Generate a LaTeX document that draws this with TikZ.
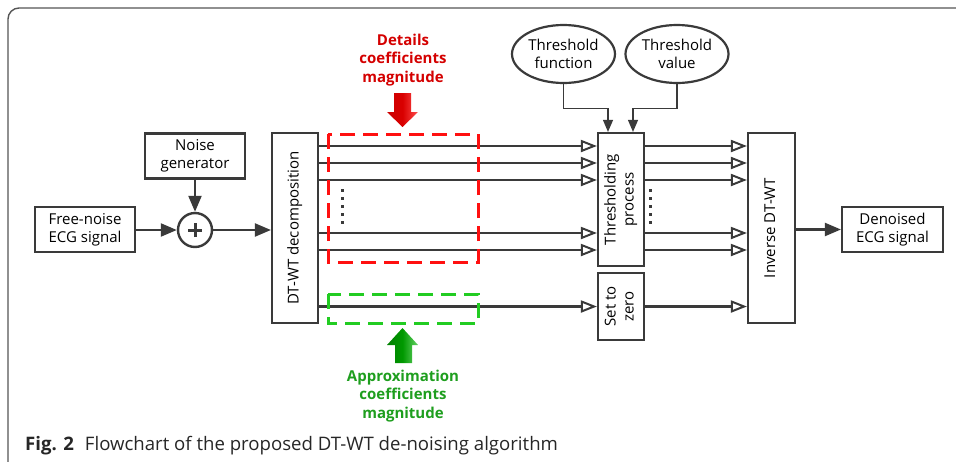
\documentclass[tikz,border=0pt]{standalone}
\usepackage{fontspec}
\setmainfont{Open Sans}
\usepackage{graphicx}
\usetikzlibrary{arrows.meta,shapes.geometric}
\definecolor{ln}{HTML}{3A3A3A}
\definecolor{frm}{HTML}{555555}
\definecolor{redtxt}{HTML}{D40000}
\definecolor{reddash}{HTML}{FF1010}
\definecolor{grntxt}{HTML}{1E9E1E}
\definecolor{grndash}{HTML}{22CC22}
\newcommand\vtext[1]{\rotatebox{90}{\begin{tabular}{@{}c@{}}#1\end{tabular}}}
\tikzset{
  box/.style={draw=ln, line width=2.2pt, fill=white, inner sep=0pt, align=center,
    font=\fontsize{15}{18}\selectfont, text=black},
  oval/.style={box, ellipse, minimum width=103pt, minimum height=58pt},
  sig/.style={draw=ln, line width=2.2pt, -{Triangle[length=16pt,width=13pt]}},
  osig/.style={draw=ln, line width=2.2pt, -{Triangle[open,length=16pt,width=12pt,line width=2pt,fill=white]}},
  thinsig/.style={draw=ln, line width=1.1pt, -{Triangle[length=12pt,width=10pt]}},
  lbl/.style={font=\fontsize{15}{18.5}\selectfont\bfseries, align=center},
  dashbox/.style={line width=3pt, dash pattern=on 15pt off 8pt},
}
\begin{document}
\begin{tikzpicture}[x=1pt,y=-1pt]
\useasboundingbox (0,0) rectangle (956,461);
\begin{scope}
\clip (0,0) rectangle (956,461);
\draw[frm, line width=1.4pt, rounded corners=11pt] (8,8) rectangle (1000,520);
\end{scope}

% main nodes
\node[box, minimum width=100pt, minimum height=45pt] (fn) at (85,229.5) {Free-noise\\ECG signal};
\node[box, minimum width=100pt, minimum height=45pt] (ng) at (195,156) {Noise\\generator};
\node[draw=ln, line width=2.4pt, circle, minimum size=34pt, inner sep=0pt, fill=white] (sum) at (195,230) {};
\draw[ln, line width=3pt] ([xshift=-7pt]sum.center) -- ([xshift=7pt]sum.center)
  ([yshift=-7pt]sum.center) -- ([yshift=7pt]sum.center);
\node[box, minimum width=46pt, minimum height=190pt] (dt) at (295,228) {\vtext{DT-WT decomposition}};
\node[box, minimum width=46pt, minimum height=133pt] (thr) at (621,199.5) {\vtext{Thresholding\\process}};
\node[box, minimum width=46pt, minimum height=67pt] (sz) at (621,306.5) {\vtext{Set to\\zero}};
\node[box, minimum width=47pt, minimum height=190pt] (inv) at (771.5,228) {\vtext{Inverse DT-WT}};
\node[box, minimum width=101pt, minimum height=45pt] (den) at (892.5,229.5) {Denoised\\ECG signal};
\node[oval] (tf) at (563.5,54) {Threshold\\function};
\node[oval] (tv) at (677,54) {Threshold\\value};

% input connectors
\draw[sig] (fn.east |- sum.west) -- (sum.west);
\draw[sig] (ng.south) -- (sum.north);
\draw[sig] (sum.east) -- (sum.east -| dt.west);
\draw[sig] (den.west -| inv.east) -- (den.west);

% threshold connectors
\draw[thinsig] (tf.south) -- ++(0,24) -| ([xshift=-13pt]thr.north);
\draw[thinsig] (tv.south) -- ++(0,24) -| ([xshift=12pt]thr.north);

% detail lines
\foreach \yy in {146,163,180,233,250} {
  \draw[osig] (dt.east |- 0,\yy) -- (thr.west |- 0,\yy);
  \draw[osig] (thr.east |- 0,\yy) -- (inv.west |- 0,\yy);
}
\draw[osig] (dt.east |- sz.west) -- (sz.west);
\draw[osig] (sz.east) -- (sz.east -| inv.west);

% dots
\foreach \yy in {190,198,206,214,222} {
  \fill[ln] (340.5,\yy-1.5) rectangle ++(3,3);
  \fill[ln] (648.5,\yy-1.5) rectangle ++(3,3);
}

% dashed boxes
\draw[reddash, dashbox] (328,134) rectangle (478,262);
\draw[grndash, dashbox] (328,294) rectangle (478,323);

% block arrows
\shade[left color=red!80!black, right color=red!70, middle color=red!85!black]
  (394,93) -- (411,93) -- (411,112) -- (418,112) -- (402.5,127) -- (387,112) -- (394,112) -- cycle;
\shade[left color=green!50!black, right color=green!70!black!60, middle color=green!60!black]
  (395,363) -- (412,363) -- (412,345) -- (418,345) -- (402.5,328) -- (387,345) -- (395,345) -- cycle;

% labels
\node[lbl, text=redtxt] (dlab) at (403,60) {Details\\coefficients\\magnitude};
\node[lbl, text=grntxt] (alab) at (403,396) {Approximation\\coefficients\\magnitude};

% caption
\node[anchor=base west, inner sep=0pt, text=black!85] (cap) at (25,450)
  {\fontsize{18.6}{22}\selectfont\textbf{Fig. 2}\hspace{11pt}Flowchart of the proposed DT-WT de-noising algorithm};
\end{tikzpicture}
\end{document}
